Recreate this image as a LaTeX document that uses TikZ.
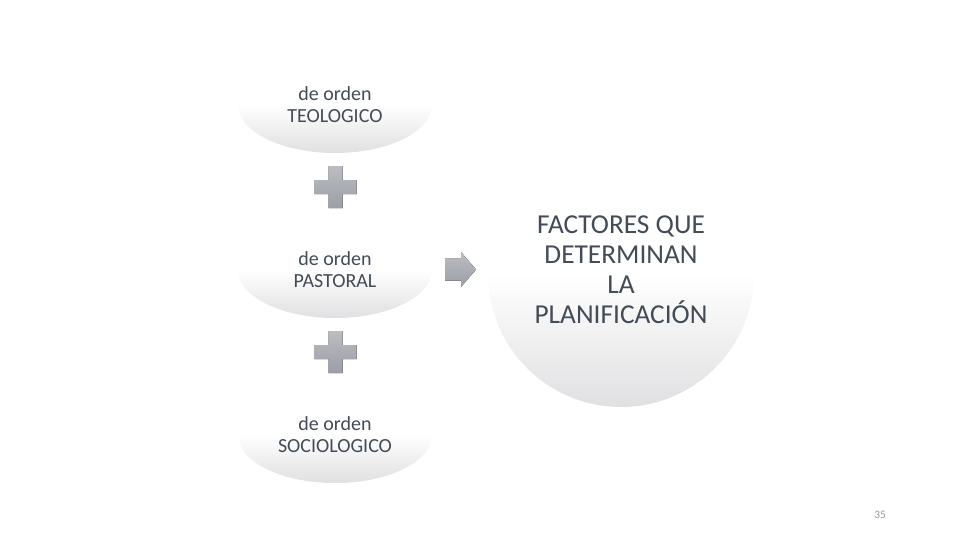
\documentclass[tikz,border=0pt]{standalone}
\usepackage{fontspec}
\setmainfont{Carlito}
\usetikzlibrary{shapes.geometric}
\definecolor{txt}{HTML}{434B56}
\definecolor{fadegray}{HTML}{E0E0E2}
\definecolor{signtop}{HTML}{BBBDC2}
\definecolor{signbot}{HTML}{9B9EA6}
\tikzset{
  px/.style={x=0.75pt,y=-0.75pt},
  fade/.style={top color=white, bottom color=fadegray, middle color=white},
  factor/.style={ellipse, minimum width=145.5pt, minimum height=72pt, inner sep=0pt,
     fade, text=txt, font=\fontsize{15}{16.5}\selectfont, align=center},
  result/.style={circle, minimum size=199.5pt, inner sep=0pt, fade},
  bigtext/.style={text=txt, font=\fontsize{20.5}{22.5}\selectfont, align=center},
  sign/.style={top color=signtop, bottom color=signbot}
}
\begin{document}
\begin{tikzpicture}[px]
\useasboundingbox (0,0) rectangle (960,540);
\node[factor] (teo) at (335,105) {de orden\\TEOLOGICO};
\node[factor] (pas) at (335,270) {de orden\\PASTORAL};
\node[factor] (soc) at (335,435) {de orden\\SOCIOLOGICO};
\node[result] (res) at (621,274) {};
\node[bigtext] (restext) at (621,270)
  {FACTORES QUE\\DETERMINAN\\LA\\PLANIFICACIÓN};
\coordinate (p1) at (335.5,187);
\coordinate (p2) at (335.5,352);
\foreach \p in {p1,p2}{
  \fill[sign] ([shift={(-7,-21)}]\p) -- ++(14,0) -- ++(0,14) -- ++(14,0) -- ++(0,14)
     -- ++(-14,0) -- ++(0,14) -- ++(-14,0) -- ++(0,-14) -- ++(-14,0) -- ++(0,-14)
     -- ++(14,0) -- cycle;
}
\coordinate (arr) at (445,269.5);
\fill[sign] ([shift={(0,-11)}]arr) -- ++(16,0) -- ++(0,-6.5) -- ++(15,17.5) -- ++(-15,17.5)
   -- ++(0,-6.5) -- ++(-16,0) -- cycle;
\node[text=gray!80, font=\fontsize{8.5}{10}\selectfont] (pg) at (880,515) {35};
\end{tikzpicture}
\end{document}
